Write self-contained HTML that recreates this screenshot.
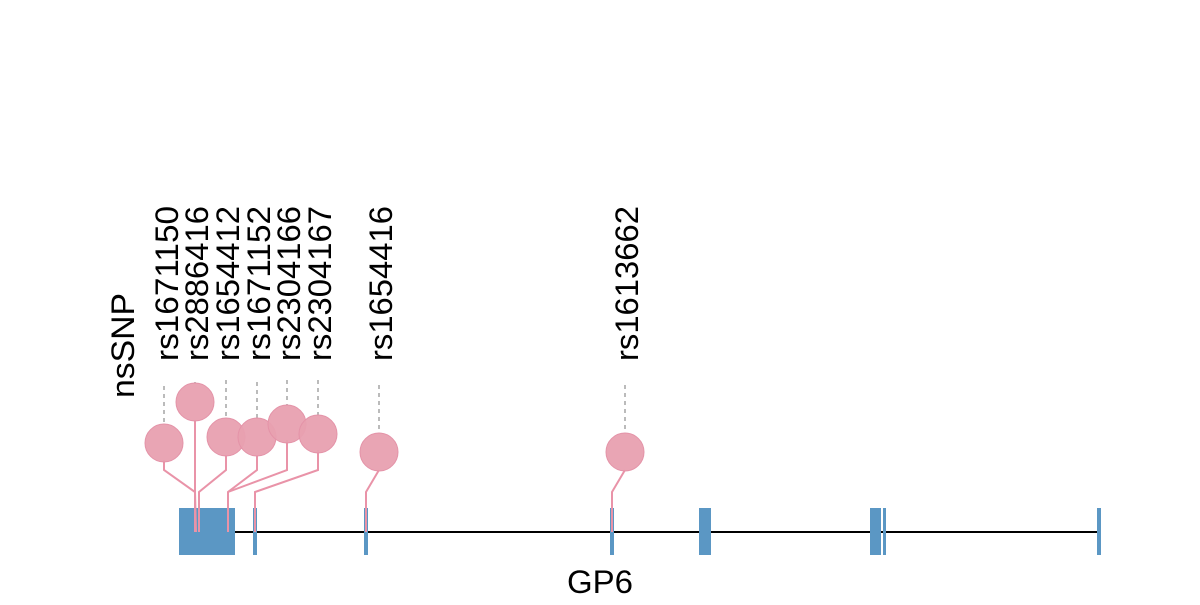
<!DOCTYPE html>
<html><head><meta charset="utf-8"><style>html,body{margin:0;padding:0;background:#fff}</style></head>
<body>
<svg width="1200" height="600" xmlns="http://www.w3.org/2000/svg" font-family="Liberation Sans, sans-serif">
<rect width="1200" height="600" fill="#fff"/>
<line x1="235" y1="532" x2="1099" y2="532" stroke="#000" stroke-width="2"/>
<g fill="#5b97c4">
<rect x="179" y="508" width="56" height="47"/>
<rect x="253" y="508" width="4" height="47"/>
<rect x="364" y="508" width="4" height="47"/>
<rect x="610" y="508" width="4" height="47"/>
<rect x="699" y="508" width="12" height="47"/>
<rect x="870" y="508" width="11" height="47"/>
<rect x="883" y="508" width="3" height="47"/>
<rect x="1097" y="508" width="4" height="47"/>
</g>
<g stroke="#bbb" stroke-width="2" stroke-dasharray="4,4">
<line x1="164" y1="386" x2="164" y2="424"/>
<line x1="195" y1="382" x2="195" y2="383"/>
<line x1="226" y1="380" x2="226" y2="418"/>
<line x1="257" y1="382" x2="257" y2="418"/>
<line x1="287" y1="380" x2="287" y2="405"/>
<line x1="318" y1="380" x2="318" y2="415"/>
<line x1="379" y1="385" x2="379" y2="433"/>
<line x1="625" y1="385" x2="625" y2="433"/>
</g>
<g stroke="#e993a8" stroke-width="2" fill="none">
<polyline points="164,460 164,470 195,492 195,532"/>
<polyline points="195,420 195,492 196,532"/>
<polyline points="226,455 226,470 199,492 199,532"/>
<polyline points="257,455 257,470 228,492 228,532"/>
<polyline points="287,440 287,470 228,492"/>
<polyline points="318,450 318,470 255,492 255,532"/>
<polyline points="379,470 366,492 366,532"/>
<polyline points="625,470 612,492 612,532"/>
</g>
<g fill="#e8a0b0" fill-opacity="0.95" stroke="#e493a8" stroke-width="1">
<circle cx="164" cy="443" r="19"/>
<circle cx="195" cy="402" r="19"/>
<circle cx="226" cy="437" r="19"/>
<circle cx="257" cy="437" r="19"/>
<circle cx="287" cy="424" r="19"/>
<circle cx="318" cy="434" r="19"/>
<circle cx="379" cy="452" r="19"/>
<circle cx="625" cy="452" r="19"/>
</g>
<g font-size="32" fill="#000">
<text transform="translate(178,361) rotate(-90)" textLength="155" lengthAdjust="spacingAndGlyphs">rs1671150</text>
<text transform="translate(208,361) rotate(-90)" textLength="155" lengthAdjust="spacingAndGlyphs">rs2886416</text>
<text transform="translate(239,361) rotate(-90)" textLength="155" lengthAdjust="spacingAndGlyphs">rs1654412</text>
<text transform="translate(270,361) rotate(-90)" textLength="155" lengthAdjust="spacingAndGlyphs">rs1671152</text>
<text transform="translate(300,361) rotate(-90)" textLength="155" lengthAdjust="spacingAndGlyphs">rs2304166</text>
<text transform="translate(331,361) rotate(-90)" textLength="155" lengthAdjust="spacingAndGlyphs">rs2304167</text>
<text transform="translate(392,361) rotate(-90)" textLength="155" lengthAdjust="spacingAndGlyphs">rs1654416</text>
<text transform="translate(638,361) rotate(-90)" textLength="155" lengthAdjust="spacingAndGlyphs">rs1613662</text>
<text transform="translate(134,398) rotate(-90)" textLength="105" lengthAdjust="spacingAndGlyphs">nsSNP</text>
<text x="567" y="593" textLength="66" lengthAdjust="spacingAndGlyphs">GP6</text>
</g>
</svg>
</body></html>
